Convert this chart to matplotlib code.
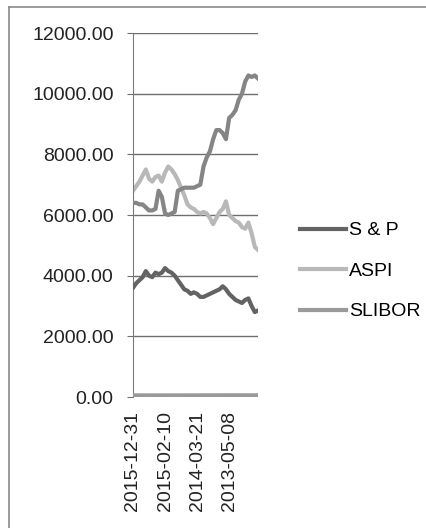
import numpy as np
import matplotlib.pyplot as plt
from matplotlib.lines import Line2D

# Category axis (dates run backwards, newest first)
n_points = 40
tick_idx = [0, 10, 20, 30]
tick_labels = ["2015-12-31", "2015-02-10", "2014-03-21", "2013-05-08"]

sp = [3600, 3750, 3850, 3950, 4150, 4000, 3950, 4100, 4050, 4100,
      4250, 4150, 4100, 4000, 3850, 3700, 3550, 3500, 3400, 3450,
      3400, 3300, 3300, 3350, 3400, 3450, 3500, 3550, 3650, 3550,
      3400, 3300, 3200, 3150, 3100, 3200, 3250, 3000, 2800, 2850]

aspi = [6800, 6950, 7100, 7300, 7500, 7200, 7100, 7250, 7300, 7100,
        7400, 7600, 7500, 7350, 7150, 6900, 6650, 6350, 6250, 6200,
        6100, 6050, 6100, 6050, 5900, 5700, 5900, 6100, 6200, 6450,
        6000, 5900, 5800, 5750, 5600, 5550, 5750, 5400, 4950, 4850]

slibor = [7.6, 7.6, 7.5, 7.4, 7.2, 7.0, 6.9, 6.9, 6.8, 6.8,
          6.8, 6.9, 7.0, 7.0, 7.1, 7.1, 7.2, 7.3, 7.5, 7.8,
          8.0, 8.5, 9.0, 9.4, 9.6, 9.8, 10.0, 10.2, 10.4, 10.5,
          10.6, 10.6, 10.5, 10.4, 10.3, 10.2, 10.0, 9.9, 9.8, 9.8]

# fourth series, cut off from the legend in the original
other = [6400, 6400, 6350, 6350, 6250, 6150, 6150, 6200, 6800, 6600,
         6050, 6000, 6050, 6100, 6800, 6850, 6900, 6900, 6900, 6900,
         6950, 7000, 7600, 7900, 8100, 8500, 8800, 8800, 8700, 8500,
         9200, 9300, 9450, 9800, 10000, 10400, 10600, 10550, 10600, 10500]

plt.rcParams['font.family'] = ['Liberation Sans', 'DejaVu Sans']

fig = plt.figure(figsize=(4.27, 5.28), dpi=100)
W, H = 427, 528
ax = fig.add_axes([133 / W, 1 - 397 / H, 125 / W, 364 / H])

x = np.arange(n_points)
ax.plot(x, other, color='#858585', linewidth=3.0, zorder=3)
ax.plot(x, aspi, color='#b8b8b8', linewidth=3.0, zorder=2)
ax.plot(x, sp, color='#636363', linewidth=3.0, zorder=3)
ax.plot(x, slibor, color='#9a9a9a', linewidth=5, zorder=3,
        solid_capstyle='butt')

ax.set_xlim(0, n_points - 1)
ax.set_ylim(0, 12000)
ax.set_yticks(np.arange(0, 12001, 2000))
ax.set_yticklabels([f"{v:.2f}" for v in np.arange(0, 12001, 2000)],
                   fontsize=14, color='#222222')
ax.set_xticks(tick_idx)
ax.set_xticklabels(tick_labels, rotation=90, fontsize=14, color='#222222')

ax.grid(axis='y', color='#6e6e6e', linewidth=1.0)
ax.set_axisbelow(True)
for side in ['top', 'right', 'bottom']:
    ax.spines[side].set_visible(False)
ax.spines['left'].set_color('#7a7a7a')
ax.tick_params(axis='y', length=4, color='#6e6e6e', pad=10)
ax.tick_params(axis='x', length=0, pad=10)

handles = [Line2D([], [], color='#636363', linewidth=3.0),
           Line2D([], [], color='#b8b8b8', linewidth=3.0),
           Line2D([], [], color='#9a9a9a', linewidth=3.0)]
fig.legend(handles, ["S & P", "ASPI", "SLIBOR"],
           loc='upper left', bbox_to_anchor=(290 / W, 1 - 212 / H),
           frameon=False, fontsize=14, handlelength=2.4,
           handletextpad=0.15, labelspacing=1.18, borderpad=0)

# outer chart border (only top and left edges visible in the scan)
fig.add_artist(Line2D([9 / W, 1.0], [1 - 7 / H, 1 - 7 / H],
                      color='#8a8a8a', linewidth=1.2))
fig.add_artist(Line2D([9 / W, 9 / W], [0.0, 1 - 7 / H],
                      color='#8a8a8a', linewidth=1.2))

fig.savefig("out.png", dpi=100)
